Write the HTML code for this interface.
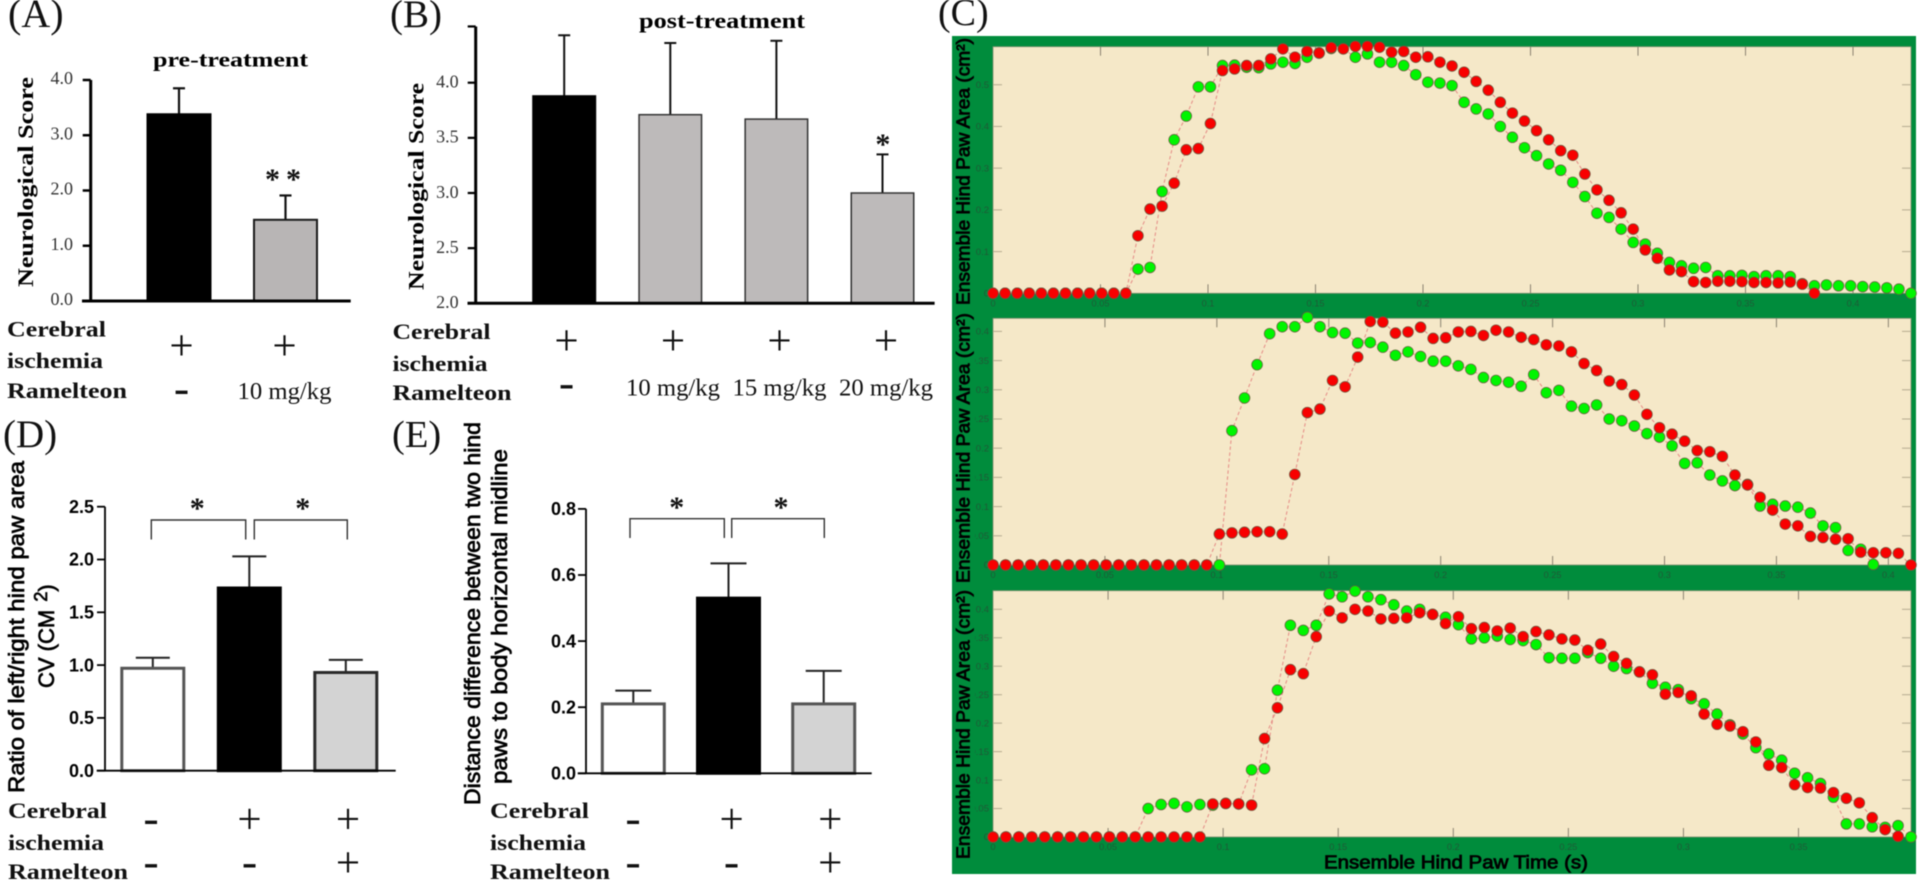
<!DOCTYPE html>
<html lang="en">
<head>
<meta charset="utf-8">
<title>Neurological score and gait analysis figure</title>
<style>
html,body{margin:0;padding:0;background:#fff;width:1920px;height:885px;overflow:hidden}
svg{display:block;filter:blur(0.45px)}
.serif{font-family:"Liberation Serif",serif}
.sans{font-family:"Liberation Sans",sans-serif}
</style>
</head>
<body>
<svg id="fig" xmlns="http://www.w3.org/2000/svg" width="1920" height="885" viewBox="0 0 1920 885">
  <defs>
    <clipPath id="ytick-clip"><rect x="975" y="0" width="30" height="885"/></clipPath>
  </defs>
  <g id="gait-frame"><rect x="952" y="36" width="964" height="838" fill="#008c3c"/></g>
  <g id="gait"></g>
  <g id="bars"></g>

  <text class="serif" x="8" y="27" font-size="40" fill="#111">(A)</text>
  <text class="serif" x="390" y="27" font-size="39" fill="#111">(B)</text>
  <text class="serif" x="938" y="25" font-size="38" fill="#111">(C)</text>
  <text class="serif" x="3" y="447" font-size="39" fill="#111">(D)</text>
  <text class="serif" x="392" y="447" font-size="38.5" fill="#111">(E)</text>

  <text class="serif" x="153" y="66.5" font-size="21" font-weight="700" textLength="155" lengthAdjust="spacingAndGlyphs">pre-treatment</text>
  <text class="serif" x="639" y="28" font-size="22" font-weight="700" textLength="166" lengthAdjust="spacingAndGlyphs">post-treatment</text>

  <text class="serif" transform="translate(33,287) rotate(-90)" font-size="22" font-weight="700" textLength="210" lengthAdjust="spacingAndGlyphs">Neurological Score</text>
  <text class="serif" transform="translate(423.6,290) rotate(-90)" font-size="22" font-weight="700" textLength="207" lengthAdjust="spacingAndGlyphs">Neurological Score</text>

  <text class="sans" transform="translate(24,793) rotate(-90)" font-size="22" font-weight="400" stroke="#000" stroke-width="0.7" textLength="332" lengthAdjust="spacingAndGlyphs">Ratio of left/right hind paw area</text>
  <text class="sans" transform="translate(54,688) rotate(-90)" font-size="22" stroke="#000" stroke-width="0.7">CV (CM <tspan dy="-7" dx="2" font-size="18">2</tspan><tspan dy="7">)</tspan></text>

  <text class="sans" transform="translate(480,805) rotate(-90)" font-size="22" stroke="#000" stroke-width="0.7" textLength="383" lengthAdjust="spacingAndGlyphs">Distance difference between two hind</text>
  <text class="sans" transform="translate(507,784) rotate(-90)" font-size="22" stroke="#000" stroke-width="0.7" textLength="335" lengthAdjust="spacingAndGlyphs">paws to body horizontal midline</text>

  <g class="serif" font-size="22" font-weight="700" fill="#111">
    <text x="7" y="336.5" textLength="99" lengthAdjust="spacingAndGlyphs">Cerebral</text>
    <text x="7" y="368" textLength="96" lengthAdjust="spacingAndGlyphs">ischemia</text>
    <text x="7" y="398" textLength="120" lengthAdjust="spacingAndGlyphs">Ramelteon</text>
  </g>
  <g class="serif" font-size="22" font-weight="700" fill="#111">
    <text x="392.5" y="339" textLength="98" lengthAdjust="spacingAndGlyphs">Cerebral</text>
    <text x="392.5" y="371" textLength="95" lengthAdjust="spacingAndGlyphs">ischemia</text>
    <text x="392.5" y="400" textLength="119" lengthAdjust="spacingAndGlyphs">Ramelteon</text>
  </g>
  <g class="serif" font-size="22" font-weight="700" fill="#111">
    <text x="8" y="818" textLength="99" lengthAdjust="spacingAndGlyphs">Cerebral</text>
    <text x="8" y="850" textLength="96" lengthAdjust="spacingAndGlyphs">ischemia</text>
    <text x="8" y="879" textLength="120" lengthAdjust="spacingAndGlyphs">Ramelteon</text>
  </g>
  <g class="serif" font-size="22" font-weight="700" fill="#111">
    <text x="490" y="818" textLength="99" lengthAdjust="spacingAndGlyphs">Cerebral</text>
    <text x="490" y="850" textLength="96" lengthAdjust="spacingAndGlyphs">ischemia</text>
    <text x="490" y="879" textLength="120" lengthAdjust="spacingAndGlyphs">Ramelteon</text>
  </g>

  <g fill="none" stroke="#333" stroke-width="1.4">
    <path d="M151.3 539.5V520H245.7V539.5"/>
    <path d="M254.3 539.5V520H347.3V539.5"/>
    <path d="M630 538V518.7H724.3V538"/>
    <path d="M731.7 538V518.7H824.3V538"/>
  </g>
  <g class="serif" font-size="30" font-weight="700" text-anchor="middle" fill="#111">
    <text x="272.5" y="189">*</text>
    <text x="293.5" y="189">*</text>
    <text x="882.9" y="154">*</text>
    <text x="197.3" y="518">*</text>
    <text x="302.7" y="518">*</text>
    <text x="676.7" y="517">*</text>
    <text x="781" y="517">*</text>
  </g>

  <g id="marks"></g>

  <g class="sans" fill="#000" stroke="#000" stroke-width="0.8" font-size="18.5">
    <text transform="translate(969.3,305) rotate(-90)" textLength="267" lengthAdjust="spacingAndGlyphs">Ensemble Hind Paw Area (cm²)</text>
    <text transform="translate(969.3,583) rotate(-90)" textLength="270" lengthAdjust="spacingAndGlyphs">Ensemble Hind Paw Area (cm²)</text>
    <text transform="translate(969.3,859) rotate(-90)" textLength="269" lengthAdjust="spacingAndGlyphs">Ensemble Hind Paw Area (cm²)</text>
    <text x="1324" y="868.3" textLength="264" lengthAdjust="spacingAndGlyphs">Ensemble Hind Paw Time (s)</text>
  </g>
</svg>

<script>
// ---- Bar chart data ----
const aValues = [3.38, 1.47];
const aErrors = [0.47, 0.44];
const aTicks = [0, 1, 2, 3, 4];
const aCerebral = ['+', '+'];
const aRamelteon = ['-', '10 mg/kg'];

const bValues = [3.88, 3.71, 3.67, 3.00];
const bErrors = [0.55, 0.65, 0.71, 0.35];
const bTicks = [2, 2.5, 3, 3.5, 4];
const bCerebral = ['+', '+', '+', '+'];
const bRamelteon = ['-', '10 mg/kg', '15 mg/kg', '20 mg/kg'];

const dValues = [0.97, 1.73, 0.93];
const dErrors = [0.10, 0.30, 0.12];
const dTicks = [0, 0.5, 1, 1.5, 2, 2.5];
const dCerebral = ['-', '+', '+'];
const dRamelteon = ['-', '-', '+'];

const eValues = [0.21, 0.53, 0.21];
const eErrors = [0.04, 0.105, 0.10];
const eTicks = [0, 0.2, 0.4, 0.6, 0.8];
const eCerebral = ['-', '+', '+'];
const eRamelteon = ['-', '-', '+'];

// ---- Gait chart data (area per video frame) ----
const frameTime = 0.005618;
const gaitXTicks = [0, 0.05, 0.1, 0.15, 0.2, 0.25, 0.3, 0.35, 0.4];
const c1YTicks = [0, 0.1, 0.2, 0.3, 0.4, 0.5];
const c2YTicks = [0, 0.05, 0.1, 0.15, 0.2, 0.25, 0.3, 0.35, 0.4];
const c3YTicks = [0, 0.05, 0.1, 0.15, 0.2, 0.25, 0.3, 0.35, 0.4];

const c1Green = [0,0,0,0,0,0,0,0,0,0,0,0,0.058,0.062,0.244,0.368,0.425,0.495,0.495,0.546,0.547,0.542,0.541,0.550,0.554,0.551,0.566,0.576,0.587,0.586,0.566,0.574,0.554,0.554,0.546,0.524,0.506,0.504,0.498,0.458,0.442,0.430,0.400,0.374,0.349,0.330,0.310,0.295,0.266,0.232,0.192,0.182,0.154,0.122,0.118,0.096,0.074,0.066,0.060,0.062,0.042,0.042,0.043,0.040,0.042,0.042,0.040,0.023,0.018,0.020,0.018,0.018,0.016,0.015,0.013,0.010,0];
const c1Red = [0,0,0,0,0,0,0,0,0,0,0,0,0.138,0.202,0.209,0.264,0.344,0.347,0.407,0.534,0.538,0.546,0.546,0.562,0.586,0.566,0.580,0.576,0.589,0.586,0.592,0.592,0.590,0.578,0.580,0.566,0.567,0.554,0.545,0.530,0.508,0.487,0.458,0.432,0.413,0.390,0.368,0.342,0.331,0.286,0.248,0.223,0.193,0.154,0.104,0.084,0.056,0.052,0.028,0.026,0.029,0.029,0.028,0.026,0.026,0.025,0.027,0.022,0];

const c2Green = [0,0,0,0,0,0,0,0,0,0,0,0,0,0,0,0,0,0,0,0.230,0.286,0.343,0.396,0.408,0.408,0.424,0.408,0.398,0.397,0.380,0.381,0.373,0.359,0.365,0.357,0.349,0.349,0.341,0.335,0.321,0.316,0.313,0.306,0.326,0.295,0.299,0.272,0.268,0.274,0.250,0.247,0.238,0.225,0.219,0.204,0.174,0.175,0.154,0.144,0.136,0.138,0.101,0.104,0.101,0.099,0.089,0.067,0.064,0.025,0.027,0.001];
const c2Red = [0,0,0,0,0,0,0,0,0,0,0,0,0,0,0,0,0,0,0.053,0.055,0.056,0.057,0.057,0.053,0.155,0.261,0.267,0.316,0.305,0.356,0.417,0.416,0.397,0.399,0.407,0.388,0.389,0.399,0.400,0.393,0.402,0.399,0.390,0.386,0.377,0.375,0.365,0.345,0.333,0.315,0.309,0.291,0.258,0.235,0.224,0.212,0.196,0.194,0.186,0.154,0.137,0.116,0.094,0.070,0.067,0.049,0.047,0.044,0.045,0.022,0.021,0.021,0.020,0];

const c3Green = [0,0,0,0,0,0,0,0,0,0,0,0,0.050,0.057,0.059,0.053,0.057,0.056,0.059,0.058,0.118,0.120,0.258,0.372,0.363,0.372,0.427,0.422,0.432,0.422,0.417,0.408,0.397,0.400,0.391,0.386,0.373,0.348,0.350,0.353,0.347,0.345,0.338,0.315,0.314,0.314,0.324,0.314,0.300,0.296,0.290,0.270,0.263,0.259,0.243,0.234,0.216,0.197,0.181,0.157,0.146,0.135,0.112,0.104,0.094,0.070,0.023,0.023,0.018,0.017,0.020,0];
const c3Red = [0,0,0,0,0,0,0,0,0,0,0,0,0,0,0,0,0,0.058,0.059,0.058,0.056,0.173,0.227,0.294,0.287,0.352,0.397,0.385,0.400,0.397,0.383,0.384,0.385,0.394,0.391,0.375,0.387,0.366,0.368,0.362,0.367,0.352,0.361,0.355,0.348,0.346,0.328,0.339,0.317,0.305,0.290,0.285,0.251,0.254,0.248,0.216,0.198,0.195,0.185,0.167,0.126,0.122,0.092,0.087,0.086,0.078,0.068,0.060,0.034,0.013,0.001];

const NS = 'http://www.w3.org/2000/svg';
function el(tag, attrs, parent, text) {
  const n = document.createElementNS(NS, tag);
  for (const k in attrs) n.setAttribute(k, attrs[k]);
  if (text !== undefined) n.textContent = text;
  parent.appendChild(n);
  return n;
}

// ---- Bar panels ----
function drawBarPanel(p) {
  const host = document.getElementById('bars');
  const g = el('g', {}, host);
  
  
  const y = v => p.y0 - (v - p.yMin) * p.pxPerUnit;
  const xc = i => p.x0 + i * p.step;

  p.values.forEach((v, i) => {
    const c = xc(i);
    const top = y(v + p.errors[i]);
    const stem = el('line', {x1: c, x2: c, y1: y(v), y2: top, stroke: p.errColor, 'stroke-width': p.errWidth}, g);
    
    
    const cap = el('line', {x1: c - p.capHalf, x2: c + p.capHalf, y1: top, y2: top, stroke: p.errColor, 'stroke-width': p.errWidth}, g);
    
    
    const bar = el('rect', {
      x: c - p.barW / 2, y: y(v), width: p.barW, height: y(p.yMin) - y(v),
      fill: p.fills[i], stroke: p.strokes[i], 'stroke-width': p.strokeW
    }, g);
    
    
  });

  const yAxis = el('line', {x1: p.axisX, x2: p.axisX, y1: y(p.axisTop), y2: p.y0, stroke: '#000', 'stroke-width': p.axisW}, g);
  
  
  const xAxis = el('line', {x1: p.xFrom, x2: p.xTo, y1: p.y0, y2: p.y0, stroke: '#000', 'stroke-width': p.axisW}, g);
  
  

  const tickVals = p.ticks.concat(p.axisTop > p.ticks[p.ticks.length - 1] ? [p.axisTop] : []);
  tickVals.forEach(t => {
    const mark = el('line', {x1: p.axisX - p.tickLen, x2: p.axisX, y1: y(t), y2: y(t), stroke: '#000', 'stroke-width': p.tickW}, g);
    
    
  });
  p.ticks.forEach(t => {
    const lab = el('text', {
      x: p.labelX, y: y(t) + p.labelDy, 'text-anchor': 'end',
      'font-family': p.labelFont, 'font-size': p.labelSize, 'font-weight': p.labelWeight, fill: p.labelColor
    }, g, t.toFixed(1));
    
    
  });
}

const serifStack = '"Liberation Serif", serif';
const sansStack = '"Liberation Sans", sans-serif';

drawBarPanel({name:'panel-a', values:aValues, errors:aErrors, ticks:aTicks, y0:301, yMin:0, pxPerUnit:55.25, axisTop:4,
  x0:179, step:106.5, barW:63, fills:['#000','#b8b5b5'], strokes:['#000','#1a1a1a'], strokeW:2,
  errColor:'#111', errWidth:2.2, capHalf:6, axisX:90.7, axisW:3, xFrom:82, xTo:350.7, tickLen:8, tickW:2.5,
  labelX:73, labelDy:4.2, labelFont:serifStack, labelSize:18, labelWeight:400, labelColor:'#333'});

drawBarPanel({name:'panel-b', values:bValues, errors:bErrors, ticks:bTicks, y0:303.3, yMin:2, pxPerUnit:110.3, axisTop:4.51,
  x0:564.2, step:106.1, barW:62.5, fills:['#000','#bdbaba','#bdbaba','#bdbaba'], strokes:['#000','#333','#333','#333'], strokeW:1.5,
  errColor:'#111', errWidth:2, capHalf:6, axisX:475.7, axisW:3, xFrom:467.5, xTo:934.6, tickLen:8, tickW:2.2,
  labelX:458.6, labelDy:4.8, labelFont:serifStack, labelSize:18, labelWeight:400, labelColor:'#333'});

drawBarPanel({name:'panel-d', values:dValues, errors:dErrors, ticks:dTicks, y0:770.7, yMin:0, pxPerUnit:105.6, axisTop:2.5,
  x0:152.8, step:96.5, barW:62, fills:['#fff','#000','#d3d3d3'], strokes:['#555','#000','#2a2a2a'], strokeW:3,
  errColor:'#222', errWidth:2, capHalf:17, axisX:105, axisW:1.8, xFrom:96.7, xTo:395.7, tickLen:8, tickW:1.8,
  labelX:94, labelDy:6.2, labelFont:sansStack, labelSize:18, labelWeight:700, labelColor:'#000'});

drawBarPanel({name:'panel-e', values:eValues, errors:eErrors, ticks:eTicks, y0:773.3, yMin:0, pxPerUnit:330.5, axisTop:0.8,
  x0:633.3, step:95.2, barW:62, fills:['#fff','#000','#d3d3d3'], strokes:['#555','#000','#555'], strokeW:3,
  errColor:'#222', errWidth:2, capHalf:18, axisX:586, axisW:1.8, xFrom:577.7, xTo:871.7, tickLen:8, tickW:1.8,
  labelX:576, labelDy:6.2, labelFont:sansStack, labelSize:18, labelWeight:700, labelColor:'#000'});

// ---- Condition marks under bars ----
function drawMarks(name, row1, row2, x0, step, cy1, cy2, doseDy) {
  const host = document.getElementById('marks');
  const put = (label, x, cy, rowName) => {
    let fs = 24.7, dy = doseDy;
    if (label === '+') { fs = 43; dy = 10.9; }
    if (label === '-') { fs = 46; dy = 10.3; }
    const t = el('text', {x: x, y: cy + dy, 'text-anchor': 'middle', 'font-family': serifStack, 'font-size': fs, fill: '#111'}, host, label);
    
    
  };
  row1.forEach((s, i) => put(s, x0 + i * step, cy1, 'cerebral'));
  row2.forEach((s, i) => put(s, x0 + i * step, cy2, 'ramelteon'));
}
drawMarks('panel-a', aCerebral, aRamelteon, 181.5, 103, 349, 392.7, 6.3);
drawMarks('panel-b', bCerebral, bRamelteon, 566.5, 106.5, 344, 387, 8.7);
drawMarks('panel-d', dCerebral, dRamelteon, 151, 98.5, 822.7, 866, 6);
drawMarks('panel-e', eCerebral, eRamelteon, 633, 98.6, 822.7, 866, 6);

// ---- Gait scatter panels ----
function drawGait(name, green, red, yTicks, top, bottom, yMax) {
  const host = document.getElementById('gait');
  const g = el('g', {}, host);
  
  
  const left = 993, right = 1911;
  const xMax = (Math.max(green.length, red.length) - 1) * frameTime;
  const x = t => left + t / xMax * (right - left);
  const y = v => bottom - v / yMax * (bottom - top);

  const plot = el('rect', {x: left, y: top, width: right - left, height: bottom - top, fill: '#f5e8c8', stroke: '#7f8f70', 'stroke-width': 0.8}, g);
  
  

  gaitXTicks.filter(t => t <= xMax).forEach(t => {
    if (t > 0) {
      const tt = el('line', {x1: x(t), x2: x(t), y1: top, y2: top + 9, stroke: '#8a8270', 'stroke-width': 1}, g);
      
      
      const tb = el('line', {x1: x(t), x2: x(t), y1: bottom - 9, y2: bottom, stroke: '#8a8270', 'stroke-width': 1}, g);
      
      
    }
    const lab = el('text', {x: x(t), y: bottom + 13, 'text-anchor': 'middle', 'font-family': sansStack, 'font-size': 9.2, fill: '#1f5a37'}, g, String(t));
    
    
  });

  yTicks.forEach(v => {
    if (v > 0) {
      const tl = el('line', {x1: left, x2: left + 9, y1: y(v), y2: y(v), stroke: '#b5ab90', 'stroke-width': 1}, g);
      
      
      const tr = el('line', {x1: right - 9, x2: right, y1: y(v), y2: y(v), stroke: '#b5ab90', 'stroke-width': 1}, g);
      
      
    }
    const lab = el('text', {x: 989, y: y(v) + 3.2, 'text-anchor': 'end', 'font-family': sansStack, 'font-size': 9.5, fill: '#1f5a37', 'clip-path': 'url(#ytick-clip)'}, g, String(v));
    
    
  });

  [['green', green], ['red', red]].forEach(s => {
    const pts = s[1].map((v, i) => x(i * frameTime).toFixed(1) + ',' + y(v).toFixed(1)).join(' ');
    const line = el('polyline', {points: pts, fill: 'none', stroke: '#e58a85', 'stroke-width': 1, 'stroke-dasharray': '3.5 2.5'}, g);
    
    
  });
  [['green', green, '#00f500'], ['red', red, '#f80000']].forEach(s => {
    s[1].forEach((v, i) => {
      const dot = el('circle', {cx: x(i * frameTime), cy: y(v), r: 5.4, fill: s[2], stroke: '#6a5a40', 'stroke-width': 0.7}, g);
      
      
    });
  });
}
drawGait('gait-top', c1Green, c1Red, c1YTicks, 46.7, 293.3, 0.5912);
drawGait('gait-middle', c2Green, c2Red, c2YTicks, 318.3, 565, 0.4224);
drawGait('gait-bottom', c3Green, c3Red, c3YTicks, 590.7, 837, 0.4327);
</script>
</body>
</html>
